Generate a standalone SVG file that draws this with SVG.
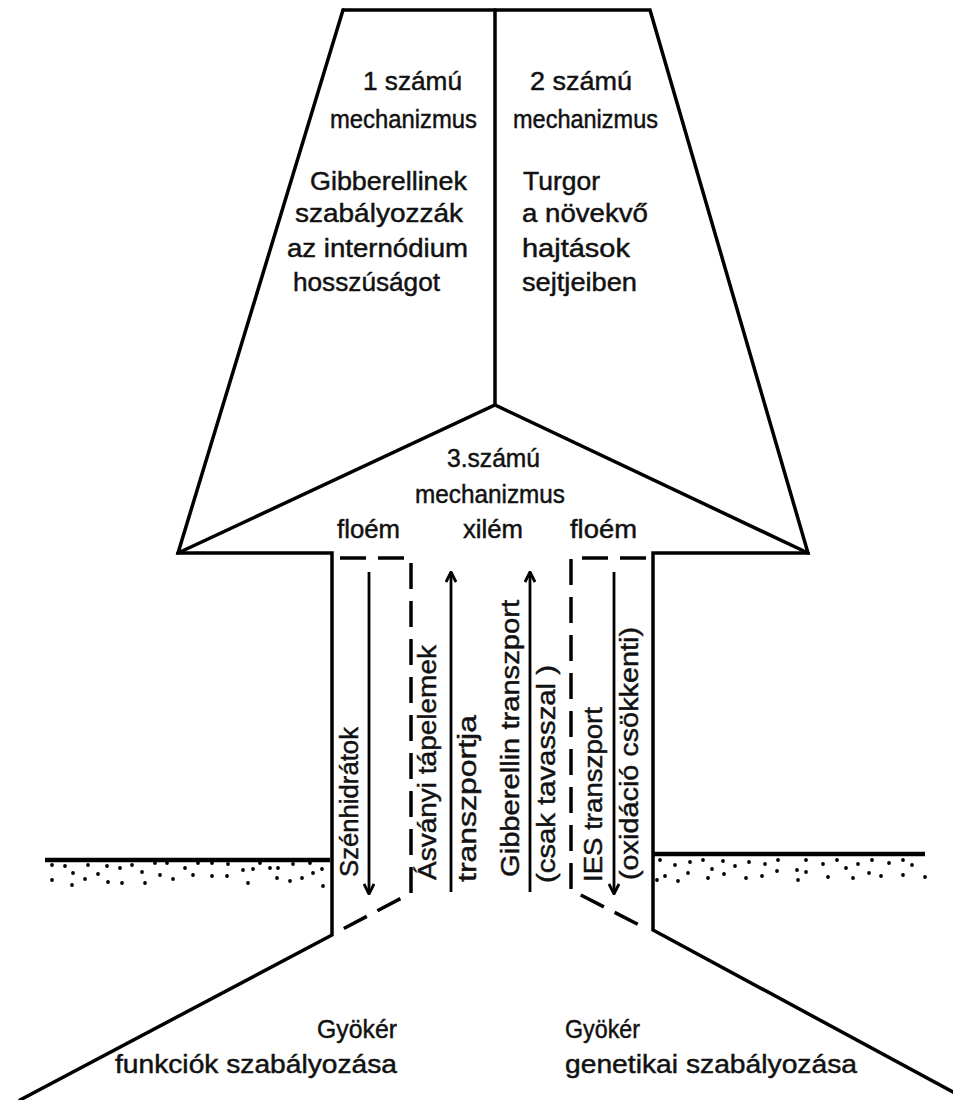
<svg xmlns="http://www.w3.org/2000/svg" width="953" height="1100" viewBox="0 0 953 1100">
<style>
.o{fill:none;stroke:#000;stroke-width:3.5;stroke-linejoin:miter;stroke-linecap:round}
.d{fill:none;stroke:#000;stroke-width:3.5;stroke-dasharray:26 12}
.a{fill:none;stroke:#000;stroke-width:2.8}
.g{fill:none;stroke:#000;stroke-width:4.5}
text{font-family:"Liberation Sans",Arial,sans-serif;font-size:25px;fill:#111;stroke:#111;stroke-width:0.45}
.dots circle{fill:#000}
</style>
<defs>
<marker id="arr" viewBox="0 0 12 12" refX="11" refY="6" markerWidth="12" markerHeight="12" markerUnits="userSpaceOnUse" orient="auto">
<path d="M1,1 L11,6 L1,11" fill="none" stroke="#000" stroke-width="2.8"/>
</marker>
</defs>
<rect width="953" height="1100" fill="#fff"/>

<g id="outline">
<path class="o" d="M343,10 H650 L808,553 H653 V930 L968,1100"/>
<path class="o" d="M343,10 L178,553 H332 V935 L20,1100"/>
<path class="o" d="M495,10 V405"/>
<path class="o" d="M178,553 L495,405 L808,553"/>
</g>

<g id="ground-left">
<path class="g" d="M45,860 H330"/>
<g class="dots">
<circle cx="52" cy="865" r="1.9"/><circle cx="65" cy="866" r="1.9"/><circle cx="88" cy="865" r="1.9"/><circle cx="107" cy="866" r="1.9"/><circle cx="120" cy="868" r="1.9"/><circle cx="132" cy="865" r="1.9"/><circle cx="155" cy="863" r="1.9"/><circle cx="167" cy="863" r="1.9"/><circle cx="185" cy="868" r="1.9"/><circle cx="198" cy="863" r="1.9"/><circle cx="212" cy="863" r="1.9"/><circle cx="228" cy="864" r="1.9"/><circle cx="243" cy="870" r="1.9"/><circle cx="253" cy="869" r="1.9"/><circle cx="260" cy="863" r="1.9"/><circle cx="270" cy="868" r="1.9"/><circle cx="278" cy="868" r="1.9"/><circle cx="293" cy="864" r="1.9"/><circle cx="310" cy="863" r="1.9"/><circle cx="322" cy="869" r="1.9"/>
<circle cx="73" cy="873" r="1.9"/><circle cx="98" cy="874" r="1.9"/><circle cx="142" cy="872" r="1.9"/><circle cx="160" cy="875" r="1.9"/><circle cx="193" cy="875" r="1.9"/><circle cx="212" cy="876" r="1.9"/><circle cx="227" cy="876" r="1.9"/><circle cx="277" cy="878" r="1.9"/><circle cx="313" cy="873" r="1.9"/>
<circle cx="52" cy="880" r="1.9"/><circle cx="72" cy="885" r="1.9"/><circle cx="85" cy="879" r="1.9"/><circle cx="108" cy="882" r="1.9"/><circle cx="122" cy="883" r="1.9"/><circle cx="145" cy="883" r="1.9"/><circle cx="173" cy="879" r="1.9"/><circle cx="248" cy="883" r="1.9"/><circle cx="290" cy="881" r="1.9"/><circle cx="302" cy="878" r="1.9"/><circle cx="323" cy="886" r="1.9"/>
</g>
</g>

<g id="ground-right">
<path class="g" d="M652,854 H925"/>
<g class="dots">
<circle cx="660" cy="860" r="1.9"/><circle cx="675" cy="865" r="1.9"/><circle cx="690" cy="862" r="1.9"/><circle cx="703" cy="860" r="1.9"/><circle cx="712" cy="869" r="1.9"/><circle cx="723" cy="861" r="1.9"/><circle cx="735" cy="866" r="1.9"/><circle cx="749" cy="862" r="1.9"/><circle cx="765" cy="864" r="1.9"/><circle cx="778" cy="860" r="1.9"/><circle cx="797" cy="870" r="1.9"/><circle cx="806" cy="860" r="1.9"/><circle cx="806" cy="872" r="1.9"/><circle cx="823" cy="864" r="1.9"/><circle cx="837" cy="860" r="1.9"/><circle cx="846" cy="868" r="1.9"/><circle cx="858" cy="864" r="1.9"/><circle cx="872" cy="860" r="1.9"/><circle cx="889" cy="863" r="1.9"/><circle cx="903" cy="860" r="1.9"/><circle cx="912" cy="865" r="1.9"/>
<circle cx="657" cy="880" r="1.9"/><circle cx="665" cy="876" r="1.9"/><circle cx="678" cy="881" r="1.9"/><circle cx="688" cy="873" r="1.9"/><circle cx="708" cy="878" r="1.9"/><circle cx="724" cy="874" r="1.9"/><circle cx="746" cy="878" r="1.9"/><circle cx="762" cy="876" r="1.9"/><circle cx="777" cy="871" r="1.9"/><circle cx="798" cy="880" r="1.9"/><circle cx="828" cy="877" r="1.9"/><circle cx="853" cy="878" r="1.9"/><circle cx="869" cy="873" r="1.9"/><circle cx="881" cy="876" r="1.9"/><circle cx="903" cy="875" r="1.9"/><circle cx="925" cy="877" r="1.9"/>
</g>
</g>

<g id="mechanism-1">
<text x="363" y="90" textLength="99" lengthAdjust="spacingAndGlyphs">1 számú</text>
<text x="330" y="128" textLength="147" lengthAdjust="spacingAndGlyphs">mechanizmus</text>
<text x="310" y="190" textLength="157" lengthAdjust="spacingAndGlyphs">Gibberellinek</text>
<text x="295" y="222" textLength="168" lengthAdjust="spacingAndGlyphs">szabályozzák</text>
<text x="287" y="257" textLength="181" lengthAdjust="spacingAndGlyphs">az internódium</text>
<text x="293" y="291" textLength="147" lengthAdjust="spacingAndGlyphs">hosszúságot</text>
</g>

<g id="mechanism-2">
<text x="530" y="90" textLength="102" lengthAdjust="spacingAndGlyphs">2 számú</text>
<text x="513" y="128" textLength="145" lengthAdjust="spacingAndGlyphs">mechanizmus</text>
<text x="523" y="190" textLength="77" lengthAdjust="spacingAndGlyphs">Turgor</text>
<text x="522" y="222" textLength="126" lengthAdjust="spacingAndGlyphs">a növekvő</text>
<text x="522" y="257" textLength="108" lengthAdjust="spacingAndGlyphs">hajtások</text>
<text x="522" y="291" textLength="115" lengthAdjust="spacingAndGlyphs">sejtjeiben</text>
</g>

<g id="mechanism-3">
<text x="447" y="467" textLength="93" lengthAdjust="spacingAndGlyphs">3.számú</text>
<text x="415" y="503" textLength="150" lengthAdjust="spacingAndGlyphs">mechanizmus</text>
<text x="337" y="538" textLength="63" lengthAdjust="spacingAndGlyphs">floém</text>
<text x="463" y="538" textLength="60" lengthAdjust="spacingAndGlyphs">xilém</text>
<text x="570" y="538" textLength="67" lengthAdjust="spacingAndGlyphs">floém</text>
</g>

<g id="transport-labels">
<text transform="translate(358,877) rotate(-90)" textLength="150" lengthAdjust="spacingAndGlyphs">Szénhidrátok</text>
<text transform="translate(436,880) rotate(-90)" textLength="235" lengthAdjust="spacingAndGlyphs">Ásványi tápelemek</text>
<text transform="translate(476,882) rotate(-90)" textLength="167" lengthAdjust="spacingAndGlyphs">transzportja</text>
<text transform="translate(519,877) rotate(-90)" textLength="277" lengthAdjust="spacingAndGlyphs">Gibberellin transzport</text>
<text transform="translate(555,883) rotate(-90)" textLength="218" lengthAdjust="spacingAndGlyphs">(csak tavasszal )</text>
<text transform="translate(602,882) rotate(-90)" textLength="175" lengthAdjust="spacingAndGlyphs">IES transzport</text>
<text transform="translate(638,880) rotate(-90)" textLength="253" lengthAdjust="spacingAndGlyphs">(oxidáció csökkenti)</text>
</g>

<g id="root-left">
<text x="317" y="1038" textLength="80" lengthAdjust="spacingAndGlyphs">Gyökér</text>
<text x="115" y="1073" textLength="282" lengthAdjust="spacingAndGlyphs">funkciók szabályozása</text>
</g>

<g id="root-right">
<text x="565" y="1038" textLength="75" lengthAdjust="spacingAndGlyphs">Gyökér</text>
<text x="565" y="1073" textLength="292" lengthAdjust="spacingAndGlyphs">genetikai szabályozása</text>
</g>

<g id="connectors">
<path class="d" d="M340,558 H411 V893 L343,929"/>
<path class="d" d="M646,558 H571 V890 L645,928"/>
<path class="a" d="M369,572 V894" marker-end="url(#arr)"/>
<path class="a" d="M451,892 V572" marker-end="url(#arr)"/>
<path class="a" d="M530,892 V572" marker-end="url(#arr)"/>
<path class="a" d="M614,572 V894" marker-end="url(#arr)"/>
</g>
</svg>
